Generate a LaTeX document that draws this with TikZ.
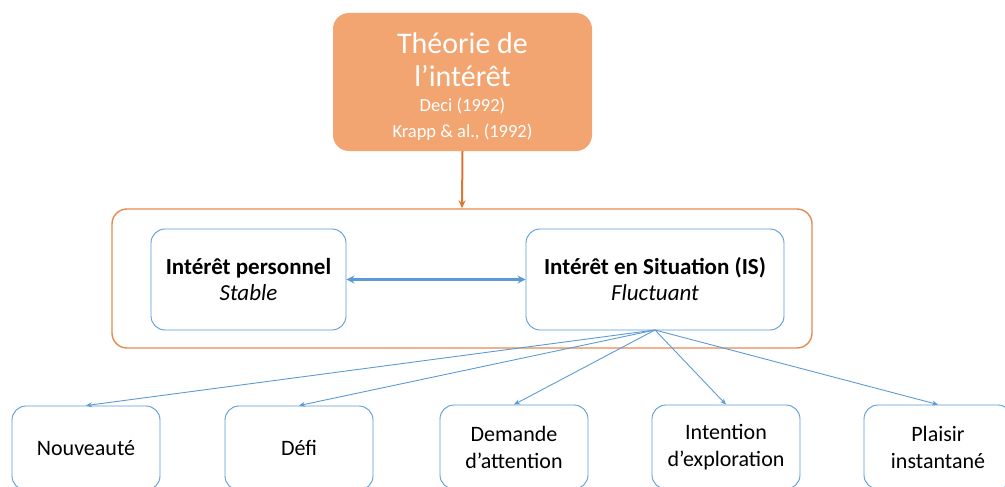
\documentclass[tikz,border=0pt]{standalone}
\usepackage{fontspec}
\setmainfont{Carlito}
\usetikzlibrary{arrows.meta}
\definecolor{orfill}{HTML}{F2A571}
\definecolor{orline}{HTML}{E58A4E}
\definecolor{orarrow}{HTML}{DD7633}
\definecolor{bl}{HTML}{5B9BD5}
\newcommand{\bigf}{\fontsize{30}{33}\selectfont}
\newcommand{\smallf}{\fontsize{18.5}{25}\selectfont}
\tikzset{
  bluebox/.style={draw=bl, line width=0.9pt, rounded corners=14pt, fill=white},
  leafbox/.style={bluebox, minimum width=148pt, minimum height=84pt, align=center, font=\fontsize{22}{27}\selectfont},
  midbox/.style={bluebox, minimum height=101pt, align=center, font=\fontsize{23}{26}\selectfont},
  link/.style={draw=bl, line width=0.9pt, -{Stealth[length=6pt,width=5pt]}},
}
\begin{document}
\begin{tikzpicture}[x=1pt,y=-1pt]
\useasboundingbox (0,0) rectangle (1005,487);
\clip (0,0) rectangle (1005,487);
% top box
\node[fill=orfill, rounded corners=16pt, minimum width=259pt, minimum height=138pt, inner sep=0pt] (theory) at (462.5,82) {};
\node[align=center, text=white, inner sep=0pt, font=\bigf] (theorytext) at (462.5,87)
  {Théorie de\\ l’intérêt\\[-8pt] \smallf Deci (1992)\\[-7pt] \smallf Krapp \& al., (1992)};
% container
\node[draw=orline, line width=1.4pt, rounded corners=15pt, minimum width=700pt, minimum height=139pt, inner sep=0pt] (cont) at (462,278.5) {};
\draw[orarrow, line width=2pt, -{Stealth[length=8pt,width=7pt]}] (theory.south) -- (cont.north);
% two boxes
\node[midbox, minimum width=195pt] (pers) at (248.5,279.5)
  {\textbf{Intérêt personnel}\\ \textit{Stable}};
\node[midbox, minimum width=258pt] (sit) at (655,279.5)
  {\textbf{Intérêt en Situation (IS)}\\ \textit{Fluctuant}};
\draw[draw=bl, line width=2.4pt, {Stealth[length=8pt,width=8pt]}-{Stealth[length=8pt,width=8pt]}] (pers.east) -- (sit.west);
% leaves
\node[leafbox] (n1) at (86,448) {Nouveauté};
\node[leafbox] (n2) at (299,448) {Défi};
\node[leafbox] (n3) at (514,447) {Demande\\ d’attention};
\node[leafbox] (n4) at (726,447) {Intention\\ d’exploration};
\node[leafbox] (n5) at (938,447) {Plaisir\\ instantané};
\coordinate (src) at (655,330);
\draw[link] (src) -- (n1.north);
\draw[link] (src) -- (n2.north);
\draw[link] (src) -- (n3.north);
\draw[link] (src) -- (n4.north);
\draw[link] (src) -- (n5.north);
\end{tikzpicture}
\end{document}
